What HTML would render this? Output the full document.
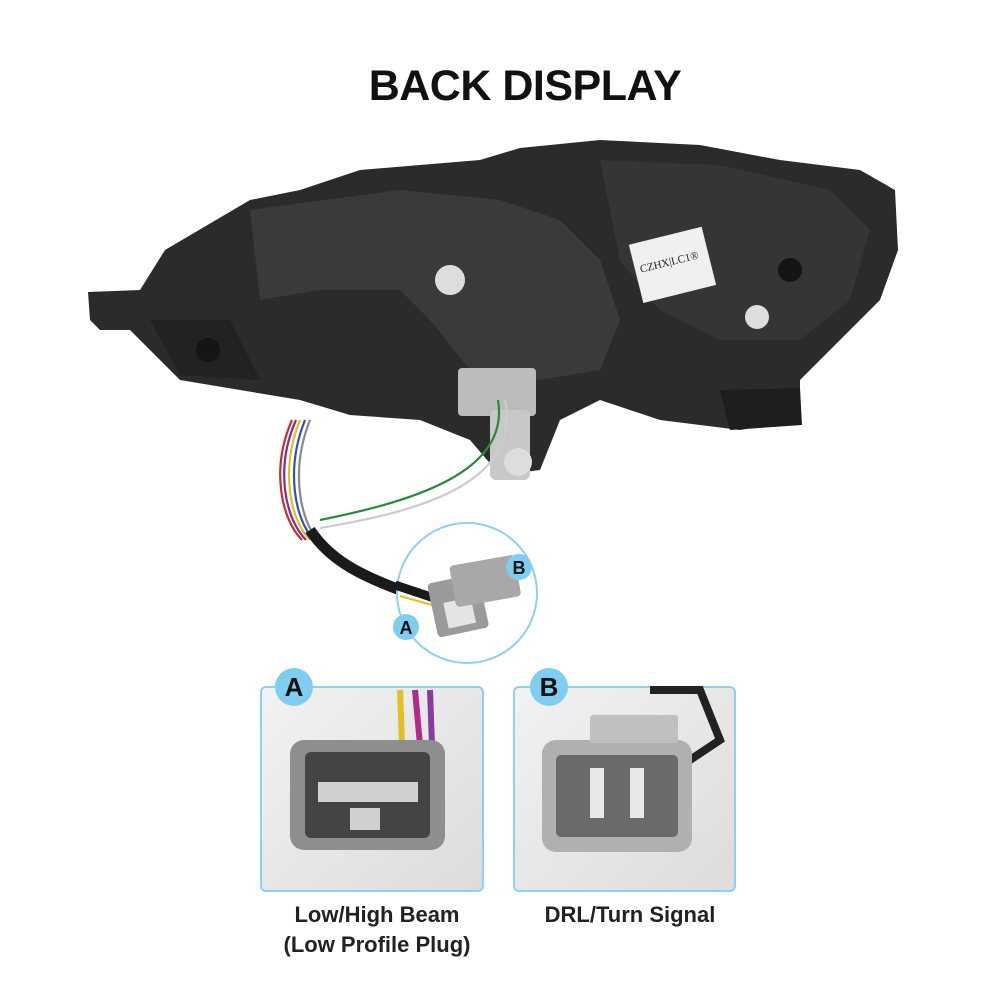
<!DOCTYPE html>
<html><head><meta charset="utf-8"><style>
html,body{margin:0;padding:0;background:#fff;width:1000px;height:1000px;overflow:hidden;font-family:"Liberation Sans",sans-serif;}
.t{position:absolute;left:25px;width:1000px;text-align:center;top:62px;font-size:43px;font-weight:bold;color:#111;letter-spacing:-0.5px;}
.lbl{position:absolute;font-size:22px;font-weight:bold;color:#222;text-align:center;}
</style></head><body>
<div class="t">BACK DISPLAY</div>
<svg width="1000" height="1000" style="position:absolute;left:0;top:0">
<defs>
<linearGradient id="pg" x1="0" y1="0" x2="1" y2="1"><stop offset="0" stop-color="#f2f2f2"/><stop offset="1" stop-color="#dcdcdc"/></linearGradient>
</defs>
<path d="M88 292 L140 290 L165 250 L250 200 L300 190 L360 170 L480 160 L520 148 L600 140 L700 145 L780 160 L860 170 L895 190 L898 250 L880 300 L830 350 L800 380 L800 420 L740 430 L660 420 L600 400 L560 420 L540 470 L500 475 L470 440 L420 420 L350 415 L300 400 L240 390 L180 380 L150 350 L130 330 L100 330 L90 320 Z" fill="#2b2b2b"/>
<path d="M250 210 L400 190 L500 200 L560 220 L600 260 L620 320 L600 370 L540 380 L470 370 L430 320 L400 290 L320 290 L260 300 Z" fill="#3a3a3a"/>
<path d="M600 160 L720 165 L830 190 L870 230 L850 300 L800 340 L720 340 L660 310 L620 260 Z" fill="#353535"/>
<path d="M150 320 L230 320 L260 380 L180 375 Z" fill="#222"/>
<path d="M720 390 L800 388 L802 425 L730 430 Z" fill="#1e1e1e"/>
<rect x="635" y="235" width="75" height="60" fill="#f0f0f0" transform="rotate(-14 672 265)"/>
<text x="640" y="265" font-size="11" font-family="Liberation Serif" fill="#222" transform="rotate(-14 672 265)">CZHX|LC1®</text>
<circle cx="450" cy="280" r="15" fill="#ddd"/><circle cx="757" cy="317" r="12" fill="#ddd"/>
<circle cx="790" cy="270" r="12" fill="#151515"/><circle cx="208" cy="350" r="12" fill="#151515"/>
<rect x="458" y="368" width="78" height="48" rx="4" fill="#bcbcbc"/>
<rect x="490" y="410" width="40" height="70" rx="6" fill="#c8c8c8"/>
<circle cx="518" cy="462" r="14" fill="#ddd"/>
<g fill="none" stroke-width="2.2">
<path d="M300 420 C280 470 290 520 310 540" stroke="#e2c020"/>
<path d="M296 420 C274 470 286 520 306 540" stroke="#8a2a8a"/>
<path d="M305 420 C285 470 295 520 314 540" stroke="#2a55c0"/>
<path d="M292 420 C270 470 282 520 302 540" stroke="#c03030"/>
<path d="M310 420 C290 470 300 520 318 540" stroke="#888"/>
<path d="M498 400 C510 470 420 500 320 520" stroke="#2a8a3a"/>
<path d="M505 400 C520 480 430 510 320 528" stroke="#ccc"/>
</g>
<path d="M310 530 C330 560 360 575 400 590" stroke="#1a1a1a" stroke-width="11" fill="none"/>
<circle cx="467" cy="593" r="70" fill="#fff" stroke="#8fd0ee" stroke-width="2"/>
<path d="M395 585 L440 600" stroke="#1a1a1a" stroke-width="9"/>
<path d="M400 596 L432 605" stroke="#e2c020" stroke-width="2"/>
<rect x="432" y="578" width="52" height="55" rx="4" fill="#9a9a9a" transform="rotate(-12 458 605)"/>
<rect x="444" y="600" width="28" height="26" fill="#e4e4e4" transform="rotate(-12 458 605)"/>
<rect x="452" y="560" width="66" height="42" rx="4" fill="#a8a8a8" transform="rotate(-10 485 580)"/>
<circle cx="406" cy="627" r="13" fill="#7fcdf0"/><text x="406" y="634" font-size="18" font-weight="bold" text-anchor="middle" fill="#111">A</text>
<circle cx="519" cy="567" r="13" fill="#7fcdf0"/><text x="519" y="574" font-size="18" font-weight="bold" text-anchor="middle" fill="#111">B</text>
<rect x="261" y="687" width="222" height="204" rx="5" fill="url(#pg)" stroke="#8fd0ee" stroke-width="2"/>
<path d="M400 690 L402 745" stroke="#e2c020" stroke-width="6"/><path d="M415 690 L420 745" stroke="#b02a8a" stroke-width="6"/><path d="M430 690 L432 745" stroke="#8a3aa0" stroke-width="6"/>
<rect x="290" y="740" width="155" height="110" rx="14" fill="#8e8e8e"/>
<rect x="305" y="752" width="125" height="86" rx="6" fill="#444"/>
<rect x="318" y="782" width="100" height="20" fill="#d0d0d0"/>
<rect x="350" y="808" width="30" height="22" fill="#d0d0d0"/>
<circle cx="294" cy="687" r="19" fill="#7fcdf0"/><text x="294" y="696" font-size="26" font-weight="bold" text-anchor="middle" fill="#111">A</text>
<rect x="514" y="687" width="221" height="204" rx="5" fill="url(#pg)" stroke="#8fd0ee" stroke-width="2"/>
<path d="M650 690 L700 690 L720 740 L690 760" fill="none" stroke="#222" stroke-width="8"/>
<rect x="542" y="740" width="150" height="112" rx="14" fill="#b0b0b0"/>
<rect x="556" y="755" width="122" height="82" rx="5" fill="#6a6a6a"/>
<rect x="590" y="768" width="14" height="50" fill="#e8e8e8"/><rect x="630" y="768" width="14" height="50" fill="#e8e8e8"/>
<rect x="590" y="715" width="88" height="28" rx="3" fill="#c0c0c0"/>
<circle cx="549" cy="687" r="19" fill="#7fcdf0"/><text x="549" y="696" font-size="26" font-weight="bold" text-anchor="middle" fill="#111">B</text>
</svg>
<div class="lbl" style="left:247px;width:260px;top:902px;">Low/High Beam</div>
<div class="lbl" style="left:247px;width:260px;top:932px;">(Low Profile Plug)</div>
<div class="lbl" style="left:500px;width:260px;top:902px;">DRL/Turn Signal</div>
</body></html>
